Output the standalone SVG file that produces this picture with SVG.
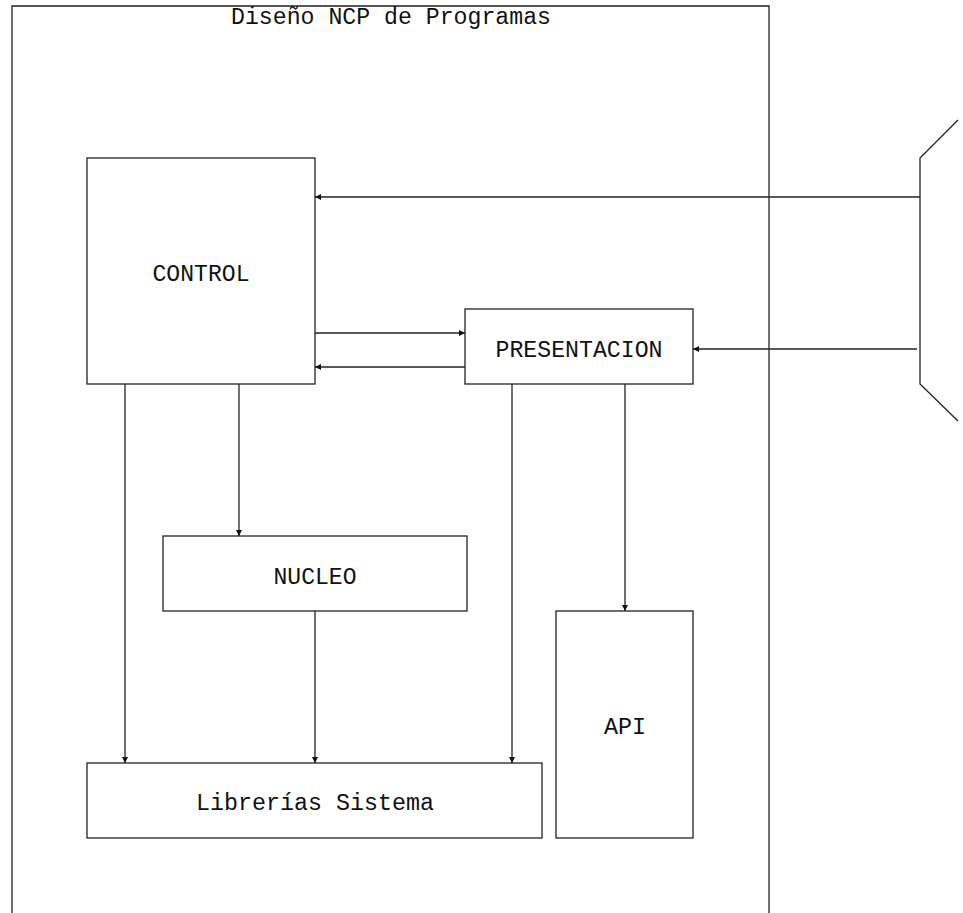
<svg xmlns="http://www.w3.org/2000/svg" width="963" height="913" viewBox="0 0 963 913">
<style>
.box{fill:#fff;stroke:#222;stroke-width:1.3}
.ln{fill:none;stroke:#222;stroke-width:1.3}
.t{font-family:"Liberation Mono","DejaVu Sans Mono",monospace;font-size:23px;fill:#111;text-anchor:middle}
</style>
<defs>
<marker id="ah" viewBox="0 0 10 10" refX="10" refY="5" markerWidth="9" markerHeight="6" markerUnits="userSpaceOnUse" orient="auto">
<path d="M0,0 L10,5 L0,10 z" fill="#111"/>
</marker>
</defs>
<rect width="963" height="913" fill="#fff"/>
<g id="frame">
<path class="ln" d="M12,913 V6 H769 V913"/>
<text class="t" x="391" y="24" textLength="320" lengthAdjust="spacingAndGlyphs">Diseño NCP de Programas</text>
</g>
<g id="external">
<path class="ln" d="M958,120 L920,158 V384 L958,421"/>
</g>
<g id="control">
<rect class="box" x="87" y="158" width="228" height="226"/>
<text class="t" x="201" y="281" textLength="97" lengthAdjust="spacingAndGlyphs">CONTROL</text>
</g>
<g id="presentacion">
<rect class="box" x="465" y="309" width="228" height="75"/>
<text class="t" x="579" y="357" textLength="167" lengthAdjust="spacingAndGlyphs">PRESENTACION</text>
</g>
<g id="nucleo">
<rect class="box" x="163" y="536" width="304" height="75"/>
<text class="t" x="315" y="584" textLength="83" lengthAdjust="spacingAndGlyphs">NUCLEO</text>
</g>
<g id="api">
<rect class="box" x="556" y="611" width="137" height="227"/>
<text class="t" x="625" y="734" textLength="42" lengthAdjust="spacingAndGlyphs">API</text>
</g>
<g id="librerias">
<rect class="box" x="87" y="763" width="455" height="75"/>
<text class="t" x="315" y="810" textLength="238" lengthAdjust="spacingAndGlyphs">Librerías Sistema</text>
</g>
<g id="connectors">
<line class="ln" x1="920" y1="197" x2="315" y2="197" marker-end="url(#ah)"/>
<line class="ln" x1="917" y1="349" x2="693" y2="349" marker-end="url(#ah)"/>
<line class="ln" x1="315" y1="333" x2="465" y2="333" marker-end="url(#ah)"/>
<line class="ln" x1="465" y1="367" x2="315" y2="367" marker-end="url(#ah)"/>
<line class="ln" x1="125" y1="384" x2="125" y2="763" marker-end="url(#ah)"/>
<line class="ln" x1="239" y1="384" x2="239" y2="536" marker-end="url(#ah)"/>
<line class="ln" x1="315" y1="611" x2="315" y2="763" marker-end="url(#ah)"/>
<line class="ln" x1="512" y1="384" x2="512" y2="763" marker-end="url(#ah)"/>
<line class="ln" x1="625" y1="384" x2="625" y2="611" marker-end="url(#ah)"/>
</g>
</svg>
